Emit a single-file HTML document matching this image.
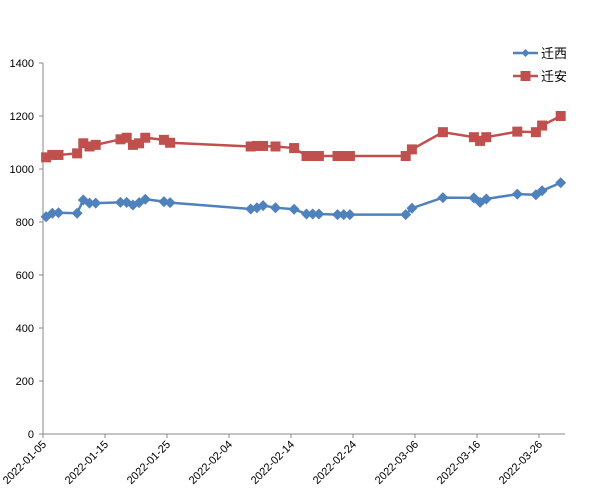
<!DOCTYPE html>
<html><head><meta charset="utf-8"><style>
body{margin:0;background:#fff;}
svg{display:block;font-family:"Liberation Sans","Noto Sans CJK SC",sans-serif;}
</style></head><body>
<svg id="chart" width="600" height="499"></svg>
<script>
const dayOffsets=[0,1,2,5,6,7,8,12,13,14,15,16,19,20,33,34,35,37,40,42,43,44,47,48,49,58,59,64,69,70,71,76,79,80,83];
const qianxi=[820,833,835,833,883,871,871,874,874,864,873,886,877,873,849,854,862,854,848,830,830,830,828,828,828,828,852,892,891,874,887,905,903,918,948];
const qianan=[1044,1053,1053,1059,1097,1085,1091,1112,1118,1091,1097,1118,1110,1099,1085,1087,1087,1085,1079,1049,1049,1049,1049,1049,1049,1049,1074,1139,1120,1106,1120,1141,1139,1164,1200];
const yTicks=[0,200,400,600,800,1000,1200,1400];
const xTickLabels=["2022-01-05","2022-01-15","2022-01-25","2022-02-04","2022-02-14","2022-02-24","2022-03-06","2022-03-16","2022-03-26"];
const NS="http://www.w3.org/2000/svg";
const svg=document.getElementById('chart');
const x0=43,pxDay=6.2,y0=434,pxUnit=(434-63)/1400;
const X=d=>x0+d*pxDay, Y=v=>y0-v*pxUnit;
const XP=d=>X(d+0.5);
function mk(t,a){const e=document.createElementNS(NS,t);for(const k in a)e.setAttribute(k,a[k]);svg.appendChild(e);return e;}
let e;
e=mk('line',{x1:x0,y1:63,x2:x0,y2:y0,stroke:'#888'});


e=mk('line',{x1:x0,y1:y0,x2:565,y2:y0,stroke:'#888'});


yTicks.forEach(v=>{
 mk('line',{x1:x0-4,y1:Y(v),x2:x0,y2:Y(v),stroke:'#888'});
 e=mk('text',{x:34,y:Y(v)+4,'text-anchor':'end','font-size':11,fill:'#000'});e.textContent=v;
 
 
});
xTickLabels.forEach((l,i)=>{
 const x=X(i*10);
 mk('line',{x1:x,y1:y0,x2:x,y2:y0+4,stroke:'#888'});
 e=mk('text',{x:x+4,y:y0+11,'text-anchor':'end','font-size':11,fill:'#000',transform:`rotate(-45 ${x+4} ${y0+11})`});e.textContent=l;
 
 
});
function series(vals,color,shape,name){
 e=mk('polyline',{points:vals.map((v,i)=>XP(dayOffsets[i])+','+Y(v)).join(' '),fill:'none',stroke:color,'stroke-width':2.5});
 
 
 vals.forEach((v,i)=>{
  const x=XP(dayOffsets[i]),y=Y(v);
  if(shape==='sq') e=mk('rect',{x:x-5,y:y-5,width:10,height:10,fill:color});
  else e=mk('polygon',{points:`${x},${y-5.5} ${x+5.5},${y} ${x},${y+5.5} ${x-5.5},${y}`,fill:color});
  
  
 });
}
series(qianan,'#c0504d','sq','qianan');
series(qianxi,'#4f81bd','dia','qianxi');
e=mk('line',{x1:513,y1:53,x2:538,y2:53,stroke:'#4f81bd','stroke-width':2.5});


e=mk('polygon',{points:'525.5,49 529.5,53 525.5,57 521.5,53',fill:'#4f81bd'});


e=mk('text',{x:541,y:58,'font-size':13,fill:'#000'});e.textContent='迁西';


e=mk('line',{x1:513,y1:76,x2:538,y2:76,stroke:'#c0504d','stroke-width':2.5});


e=mk('rect',{x:520.5,y:71,width:10,height:10,fill:'#c0504d'});


e=mk('text',{x:541,y:81,'font-size':13,fill:'#000'});e.textContent='迁安';


</script>
</body></html>
